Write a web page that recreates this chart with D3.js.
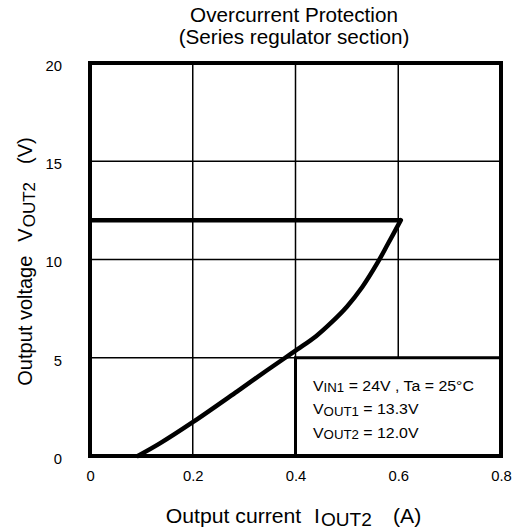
<!DOCTYPE html>
<html>
<head>
<meta charset="utf-8">
<script src="https://cdn.jsdelivr.net/npm/d3@7"></script>
<style>
  html, body { margin: 0; padding: 0; background: #fff; }
  svg { display: block; font-family: "Liberation Sans", Arial, Helvetica, sans-serif; }
</style>
</head>
<body>
<svg id="chart" width="517" height="531"></svg>
<script>
// Fold-back characteristic of the series regulator output (IOUT2 in A, VOUT2 in V)
const currentA = [0.093, 0.136, 0.200, 0.286, 0.344, 0.380, 0.405, 0.440, 0.470, 0.500, 0.530, 0.560, 0.580, 0.605];
const voltageV = [0.00, 0.64, 1.72, 3.28, 4.35, 5.00, 5.45, 6.10, 6.80, 7.60, 8.60, 9.85, 10.80, 12.00];

// Regulated section: constant 12 V up to the current limit
const regulatedCurrentA = [0, 0.605];
const regulatedVoltageV = [12.0, 12.0];

const xTicks = [0, 0.2, 0.4, 0.6, 0.8];
const yTicks = [0, 5, 10, 15, 20];

const titleLines = ["Overcurrent Protection", "(Series regulator section)"];
const xTitle = [["Output current", ""], ["I", ""], ["OUT2", "sub"], ["(A)", ""]];
const yTitle = [["Output voltage", ""], ["V", ""], ["OUT2", "sub"], ["(V)", ""]];
const conditionLines = [
  [["V", ""], ["IN1", "sub"], [" = 24V , Ta = 25°C", ""]],
  [["V", ""], ["OUT1", "sub"], [" = 13.3V", ""]],
  [["V", ""], ["OUT2", "sub"], [" = 12.0V", ""]]
];

const W = 517, H = 531;
const plot = { left: 90, right: 501, top: 63, bottom: 456 };
const SX = 1.06; // slight horizontal stretch of the lettering

const svg = d3.select("#chart");
svg.append("rect").attr("width", W).attr("height", H).attr("fill", "#fff");

const x = d3.scaleLinear().domain([0, 0.8]).range([plot.left, plot.right]);
const y = d3.scaleLinear().domain([0, 20]).range([plot.bottom, plot.top]);

// grid
const grid = svg.append("g").attr("stroke", "#000").attr("stroke-width", 1.5);
grid.selectAll("line.gx").data(xTicks.slice(1, -1)).join("line")
  .attr("x1", d => x(d)).attr("x2", d => x(d))
  .attr("y1", y(20)).attr("y2", y(0));
grid.selectAll("line.gy").data(yTicks.slice(1, -1)).join("line")
  .attr("x1", x(0)).attr("x2", x(0.8))
  .attr("y1", d => y(d)).attr("y2", d => y(d));

// conditions box (lower right block of cells)
const box = svg.append("g");
box.append("rect")
  .attr("x", x(0.4)).attr("y", y(5))
  .attr("width", x(0.8) - x(0.4)).attr("height", y(0) - y(5))
  .attr("fill", "#fff").attr("stroke", "#000").attr("stroke-width", 3);

// text with lowered, smaller subscript runs
function richText(t, parts, size, subSize, subShift, gaps) {
  let shifted = 0;
  parts.forEach(([s, kind], i) => {
    const ts = t.append("tspan").text(s);
    if (gaps) ts.attr("dx", gaps[i]);
    if (kind === "sub") {
      ts.attr("font-size", subSize).attr("dy", subShift - shifted);
      shifted = subShift;
    } else {
      ts.attr("font-size", size).attr("dy", -shifted);
      shifted = 0;
    }
  });
}

conditionLines.forEach((parts, i) => {
  const g = box.append("g")
    .attr("transform", `translate(${x(0.4) + 17.5},${y(5) + 33 + i * 23.5}) scale(${SX},1)`);
  const t = g.append("text").attr("fill", "#000").attr("xml:space", "preserve");
  richText(t, parts, 15, 12.5, 1.5);
});

// curves
const line = d3.line().x(d => x(d[0])).y(d => y(d[1]));
svg.append("path")
  .datum(d3.zip(regulatedCurrentA, regulatedVoltageV))
  .attr("d", line)
  .attr("fill", "none").attr("stroke", "#000").attr("stroke-width", 4.5);

svg.append("path")
  .datum(d3.zip(currentA, voltageV))
  .attr("d", line.curve(d3.curveCatmullRom.alpha(0.5)))
  .attr("fill", "none").attr("stroke", "#000").attr("stroke-width", 4.5)
  .attr("stroke-linecap", "round").attr("stroke-linejoin", "round");

// frame
svg.append("rect")
  .attr("x", x(0)).attr("y", y(20))
  .attr("width", x(0.8) - x(0)).attr("height", y(0) - y(20))
  .attr("fill", "none").attr("stroke", "#000").attr("stroke-width", 4);

// axes (labels only)
const xAxis = svg.append("g")
  .attr("transform", `translate(0,${plot.bottom})`)
  .call(d3.axisBottom(x).tickValues(xTicks).tickFormat(d => String(d)).tickSize(0).tickPadding(15));
xAxis.select(".domain").remove();
xAxis.selectAll("text")
  .attr("font-size", 14).attr("font-family", null).attr("fill", "#000")
  .attr("transform", `scale(${SX},1)`);

const yAxis = svg.append("g")
  .attr("transform", `translate(${plot.left},0)`)
  .call(d3.axisLeft(y).tickValues(yTicks).tickFormat(d => String(d)).tickSize(0));
yAxis.select(".domain").remove();
yAxis.selectAll("text")
  .attr("font-size", 14).attr("font-family", null).attr("fill", "#000")
  .attr("x", -28 / SX).attr("y", 3)
  .attr("transform", `scale(${SX},1)`);

// title
titleLines.forEach((s, i) => {
  svg.append("g")
    .attr("transform", `translate(${(plot.left + plot.right) / 2 - 1.5},${22 + i * 22}) scale(${SX},1)`)
    .append("text").attr("text-anchor", "middle").attr("font-size", 19.5).attr("fill", "#000")
    .text(s);
});

// axis titles
const xt = svg.append("g")
  .attr("transform", `translate(${(plot.left + plot.right) / 2 - 2},523) scale(${SX},1)`)
  .append("text").attr("text-anchor", "middle").attr("fill", "#000");
richText(xt, xTitle, 20, 18, 3, [0, 12, 1, 20]);

const yt = svg.append("g")
  .attr("transform", `translate(32,${(plot.top + plot.bottom) / 2 + 2}) rotate(-90)`)
  .append("text").attr("text-anchor", "middle").attr("fill", "#000");
richText(yt, yTitle, 20, 17, 3, [0, 14, 1, 18]);
</script>
</body>
</html>
